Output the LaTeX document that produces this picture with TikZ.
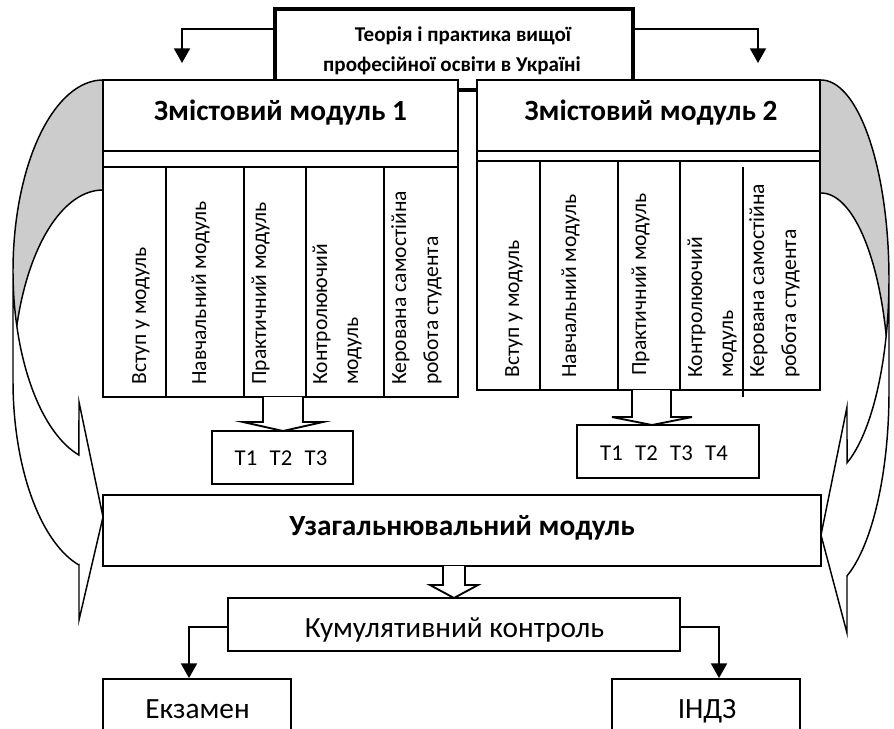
\documentclass[tikz,border=0pt]{standalone}
\usepackage{fontspec}
\setmainfont{Carlito}
\usetikzlibrary{fit,arrows.meta}
\begin{document}
\begin{tikzpicture}[x=0.75pt,y=-0.75pt,
  box/.style={draw, line width=1.4pt, fill=white, inner sep=0pt},
  tline/.style={line width=1.4pt},
  cline/.style={line width=1.1pt},
  arr/.style={line width=1.4pt, -{Triangle[width=12pt,length=11pt]}},
  blockarrow/.style={draw, fill=white, line width=1.4pt, line join=miter},
  col/.style={rotate=90, anchor=base west, inner sep=0pt, font=\fontsize{16.2}{19}\selectfont},
  head/.style={anchor=base, inner sep=0pt, font=\fontsize{22}{26}\selectfont\bfseries},
  titletext/.style={anchor=base, inner sep=0pt, font=\fontsize{15.8}{19}\selectfont\bfseries},
  plain/.style={anchor=base, inner sep=0pt, font=\fontsize{22}{26}\selectfont},
  ttext/.style={anchor=base, inner sep=0pt, font=\fontsize{17}{20}\selectfont},
  shade/.style={fill=gray!40}
]
\useasboundingbox (0,0) rectangle (894,729);
\clip (0,0) rectangle (894,729);

% ---------- left curved arrow ----------
\fill[shade] plot[domain=270:163.3, samples=60] ({103+90*cos(\x)}, {271+191*sin(\x)})
   -- plot[domain=196.7:270, samples=40] ({103+90*cos(\x)}, {381+191*sin(\x)}) -- cycle;
\fill[white] plot[domain=180:105.5, samples=60] ({103+90*cos(\x)}, {271+191*sin(\x)})
   -- (79,402) -- (103,517) -- (79,620) -- (79,565)
   -- plot[domain=105.5:180, samples=60] ({103+90*cos(\x)}, {381+191*sin(\x)}) -- cycle;
\draw[cline, line join=miter] plot[domain=180:105.5, samples=60] ({103+90*cos(\x)}, {271+191*sin(\x)})
   -- (79,402) -- (103,517) -- (79,620) -- (79,565)
   -- plot[domain=105.5:180, samples=60] ({103+90*cos(\x)}, {381+191*sin(\x)})
   -- (13,271)
   -- plot[domain=180:270, samples=60] ({103+90*cos(\x)}, {271+191*sin(\x)});
\draw[cline] plot[domain=270:196.7, samples=60] ({103+90*cos(\x)}, {381+191*sin(\x)});

% ---------- right curved arrow ----------
\fill[shade] plot[domain=-90:16.5, samples=60] ({821+68*cos(\x)}, {279+199*sin(\x)})
   -- plot[domain=-16.5:-90, samples=40] ({821+68*cos(\x)}, {392+199*sin(\x)}) -- cycle;
\fill[white] plot[domain=0:67.5, samples=60] ({821+68*cos(\x)}, {279+199*sin(\x)})
   -- (847,407) -- (821,535) -- (847,633) -- (847,577)
   -- plot[domain=67.5:0, samples=60] ({821+68*cos(\x)}, {392+199*sin(\x)}) -- cycle;
\draw[cline, line join=miter] plot[domain=0:67.5, samples=60] ({821+68*cos(\x)}, {279+199*sin(\x)})
   -- (847,407) -- (821,535) -- (847,633) -- (847,577)
   -- plot[domain=67.5:0, samples=60] ({821+68*cos(\x)}, {392+199*sin(\x)})
   -- (889,279)
   -- plot[domain=0:-90, samples=60] ({821+68*cos(\x)}, {279+199*sin(\x)});
\draw[cline] plot[domain=-90:-16.5, samples=60] ({821+68*cos(\x)}, {392+199*sin(\x)});

% ---------- title ----------
\node[box, line width=3.2pt, fit={(275,9)(633,90)}] (title) {};
\node[titletext] (tl1) at (463,41) {Теорія і практика вищої};
\node[titletext] (tl2) at (452,71) {професійної освіти в Україні};

% ---------- tables ----------
\node[box, fit={(103,151)(458,397)}] (tab1) {};
\draw[tline] (103,167) -- (458,167);
\foreach \c in {166,244,306,384} \draw[tline] (\c,167) -- (\c,397);

\node[box, fit={(477,151)(820,390)}] (tab2) {};
\draw[tline] (477,161) -- (820,161);
\foreach \c in {540,618,680} \draw[tline] (\c,161) -- (\c,390);
\draw[tline] (743,167) -- (743,397);

% ---------- module heads ----------
\node[box, fit={(103,80)(458,151)}] (zm1) {};
\node[head] (zm1t) at (280.5,120) {Змістовий модуль 1};
\node[box, fit={(477,80)(820,151)}] (zm2) {};
\node[head] (zm2t) at (651,120) {Змістовий модуль 2};

% ---------- column texts ----------
\node[col] (l1) at (146,385) {Вступ у модуль};
\node[col] (l2) at (206,385) {Навчальний модуль};
\node[col] (l3) at (266,385) {Практичний модуль};
\node[col] (l4a) at (327,385) {Контролюючий};
\node[col] (l4b) at (358,385) {модуль};
\node[col] (l5a) at (406,385) {Керована самостійна};
\node[col] (l5b) at (438,385) {робота студента};

\node[col] (r1) at (519,378) {Вступ у модуль};
\node[col] (r2) at (576,378) {Навчальний модуль};
\node[col] (r3) at (646,376) {Практичний модуль};
\node[col] (r4a) at (702,378) {Контролюючий};
\node[col] (r4b) at (733,378) {модуль};
\node[col] (r5a) at (764,378) {Керована самостійна};
\node[col] (r5b) at (796,378) {робота студента};

% ---------- topic boxes ----------
\node[box, fit={(212,431)(353,484)}] (tb1) {};
\node[ttext] (tb1t) at (281,465) {T1\hspace{0.55em}T2\hspace{0.55em}T3};
\node[box, fit={(577,425)(759,478)}] (tb2) {};
\node[ttext] (tb2t) at (664,460) {T1\hspace{0.55em}T2\hspace{0.55em}T3\hspace{0.55em}T4};

\path[blockarrow] (263,397) -- (263,422) -- (243,422) -- (283,431) -- (323,422) -- (303,422) -- (303,397);
\path[blockarrow] (632,390) -- (632,417) -- (612,417) -- (652,425) -- (692,417) -- (671,417) -- (671,390);

% ---------- generalising module ----------
\node[box, fit={(103,495)(821,566)}] (uzag) {};
\node[head] (uzagt) at (462,535) {Узагальнювальний модуль};

\node[box, fit={(228,598)(680,651)}] (kum) {};
\node[plain] (kumt) at (454.5,637) {Кумулятивний контроль};
\path[blockarrow] (443,566) -- (443,585) -- (430,585) -- (454,598) -- (478,585) -- (465,585) -- (465,566);

\node[box, fit={(103,679)(291,745)}] (ekz) {};
\node[plain] (ekzt) at (197.5,718) {Екзамен};
\node[box, fit={(612,679)(800,745)}] (indz) {};
\node[plain] (indzt) at (707,718) {ІНДЗ};

% ---------- connectors ----------
\coordinate (a1) at (182,63);
\coordinate (a2) at (758,63);
\draw[arr] ([yshift=15.4pt]title.west) -| (a1);
\draw[arr] ([yshift=15.4pt]title.east) -| (a2);
\draw[arr] ([yshift=-1.9pt]kum.west) -| ([xshift=-6pt]ekz.north);
\draw[arr] ([yshift=-1.9pt]kum.east) -| ([xshift=9.75pt]indz.north);
\end{tikzpicture}
\end{document}
